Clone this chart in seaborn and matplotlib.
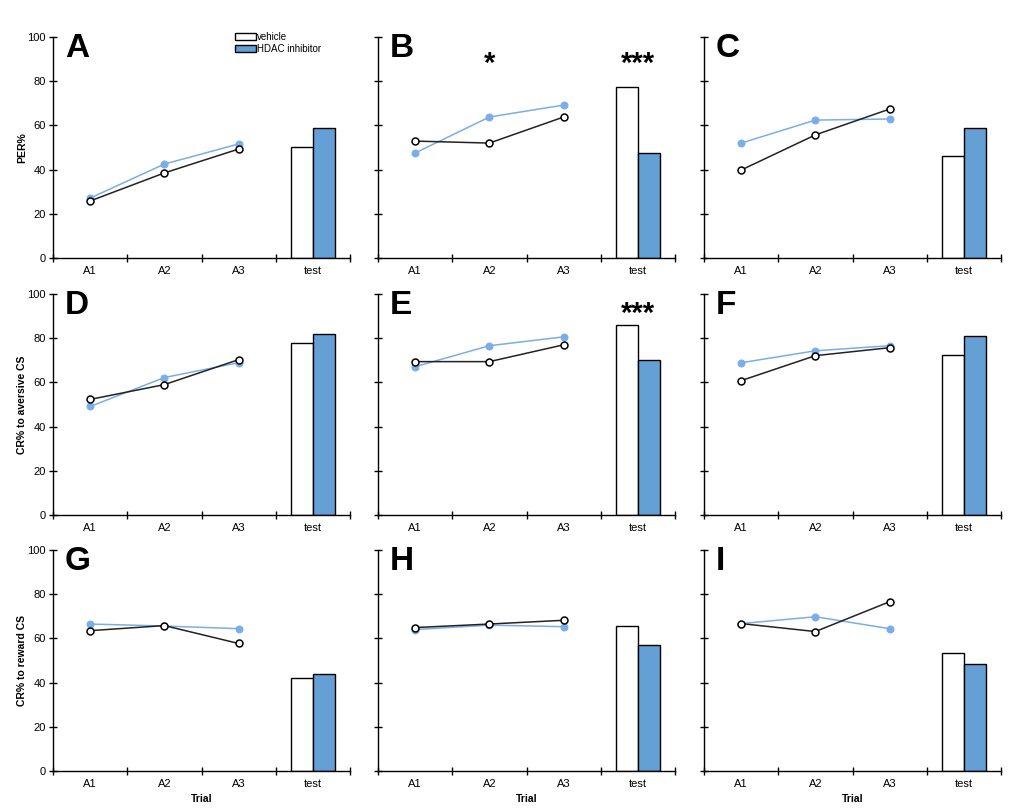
import pandas as pd
import seaborn as sns
from matplotlib import pyplot as plt
from matplotlib.patches import Patch

trials = ["A1", "A2", "A3", "test"]
panels = ["A", "B", "C", "D", "E", "F", "G", "H", "I"]
row_labels = ["PER%", "CR% to aversive CS", "CR% to reward CS"]

# acquisition trials A1-A3, per panel
vehicle_trials = [
    [25.8, 38.5, 49.3], [52.9, 52.0, 63.8], [39.8, 55.7, 67.4],
    [52.3, 59.0, 70.3], [69.4, 69.4, 77.0], [60.8, 72.1, 75.7],
    [63.5, 65.8, 57.7], [64.9, 66.5, 68.2], [66.7, 63.1, 76.6],
]
hdac_trials = [
    [27.1, 42.5, 51.6], [47.5, 63.8, 69.2], [52.0, 62.4, 62.9],
    [49.1, 62.2, 68.9], [67.1, 76.6, 80.6], [68.9, 74.3, 76.6],
    [66.5, 65.6, 64.4], [64.0, 66.0, 65.3], [66.7, 69.8, 64.4],
]
# test bars
vehicle_test = [50.2, 77.4, 46.2, 77.9, 86.0, 72.5, 42.3, 65.8, 53.6]
hdac_test = [58.8, 47.5, 58.8, 82.0, 70.3, 81.1, 43.7, 56.8, 48.2]

# significance stars: panel -> list of (trial, label, y)
stars = {"B": [("A2", "*", 88), ("test", "***", 88)], "E": [("test", "***", 91)]}

groups = ["vehicle", "HDAC inhibitor"]
blue_line = "#7aaee6"
blue_bar = "#649fd6"

sns.set_style("ticks")
plt.rcParams["font.family"] = ["Liberation Sans", "DejaVu Sans"]
plt.rcParams.update({"text.color": "black", "axes.labelcolor": "black",
                     "xtick.color": "black", "ytick.color": "black"})

fig = plt.figure(figsize=(10.24, 8.11), dpi=100)
lefts = [53 / 1024, 378 / 1024, 704 / 1024]
bottoms = [1 - 258 / 811, 1 - 515 / 811, 1 - 771 / 811]
w, h = 297 / 1024, 221 / 811

for i, name in enumerate(panels):
    r, c = divmod(i, 3)
    ax = fig.add_axes([lefts[c], bottoms[r], w, h])

    bar_df = pd.DataFrame({"trial": ["test", "test"], "group": groups,
                           "value": [vehicle_test[i], hdac_test[i]]})
    sns.barplot(data=bar_df, x="trial", y="value", hue="group", order=trials,
                hue_order=groups, palette=["white", blue_bar], width=0.6,
                edgecolor="black", linewidth=1.0, saturation=1, legend=False, ax=ax)

    xpos = [trials.index(t) for t in trials[:3]]
    sns.lineplot(x=xpos, y=hdac_trials[i], color=blue_line, lw=1.1, marker="o",
                 markersize=5, markerfacecolor=blue_line, markeredgecolor=blue_line, ax=ax)
    sns.lineplot(x=xpos, y=vehicle_trials[i], color="#222222", lw=1.1, marker="o",
                 markersize=5, markerfacecolor="white", markeredgecolor="black",
                 markeredgewidth=1.1, ax=ax)

    ax.set_xlim(-0.5, 3.5)
    ax.set_ylim(0, 100)
    ax.set_xticks([-0.5, 0.5, 1.5, 2.5, 3.5])
    ax.set_xticklabels([])
    ax.set_xticks(range(4), minor=True)
    ax.set_xticklabels(trials, minor=True, fontsize=8)
    ax.tick_params(axis="x", which="minor", length=0, pad=6)
    ax.tick_params(axis="both", which="major", direction="inout", length=6, width=1)
    ax.set_yticks(range(0, 101, 20))
    if c == 0:
        ax.tick_params(axis="y", labelsize=8, pad=2)
        ax.set_ylabel(row_labels[r], fontsize=7.5, fontweight="bold")
        ax.yaxis.set_label_coords(-0.087, 0.5)
    else:
        ax.set_yticklabels([])
        ax.set_ylabel("")
    if r == 2:
        ax.set_xlabel("Trial", fontsize=7.5, fontweight="bold", labelpad=3)
    else:
        ax.set_xlabel("")
    for s in ["top", "right"]:
        ax.spines[s].set_visible(False)
    for s in ["left", "bottom"]:
        ax.spines[s].set_linewidth(1.0)
        ax.spines[s].set_color("black")

    ax.text(0.04, 1.02, name, transform=ax.transAxes, ha="left", va="top",
            fontsize=24, fontweight="bold")
    for t, label, y in stars.get(name, []):
        ax.text(trials.index(t), y, label, ha="center", va="center",
                fontsize=21, fontweight="bold")

    if name == "A":
        handles = [Patch(facecolor="white", edgecolor="black", label=groups[0]),
                   Patch(facecolor=blue_bar, edgecolor="black", label=groups[1])]
        ax.legend(handles=handles, loc="upper left", bbox_to_anchor=(0.6, 1.04),
                  frameon=False, fontsize=7, handlelength=2.2, handleheight=0.8,
                  handletextpad=0.1, labelspacing=0.2, borderaxespad=0)

fig.savefig("out.png", dpi=100)
